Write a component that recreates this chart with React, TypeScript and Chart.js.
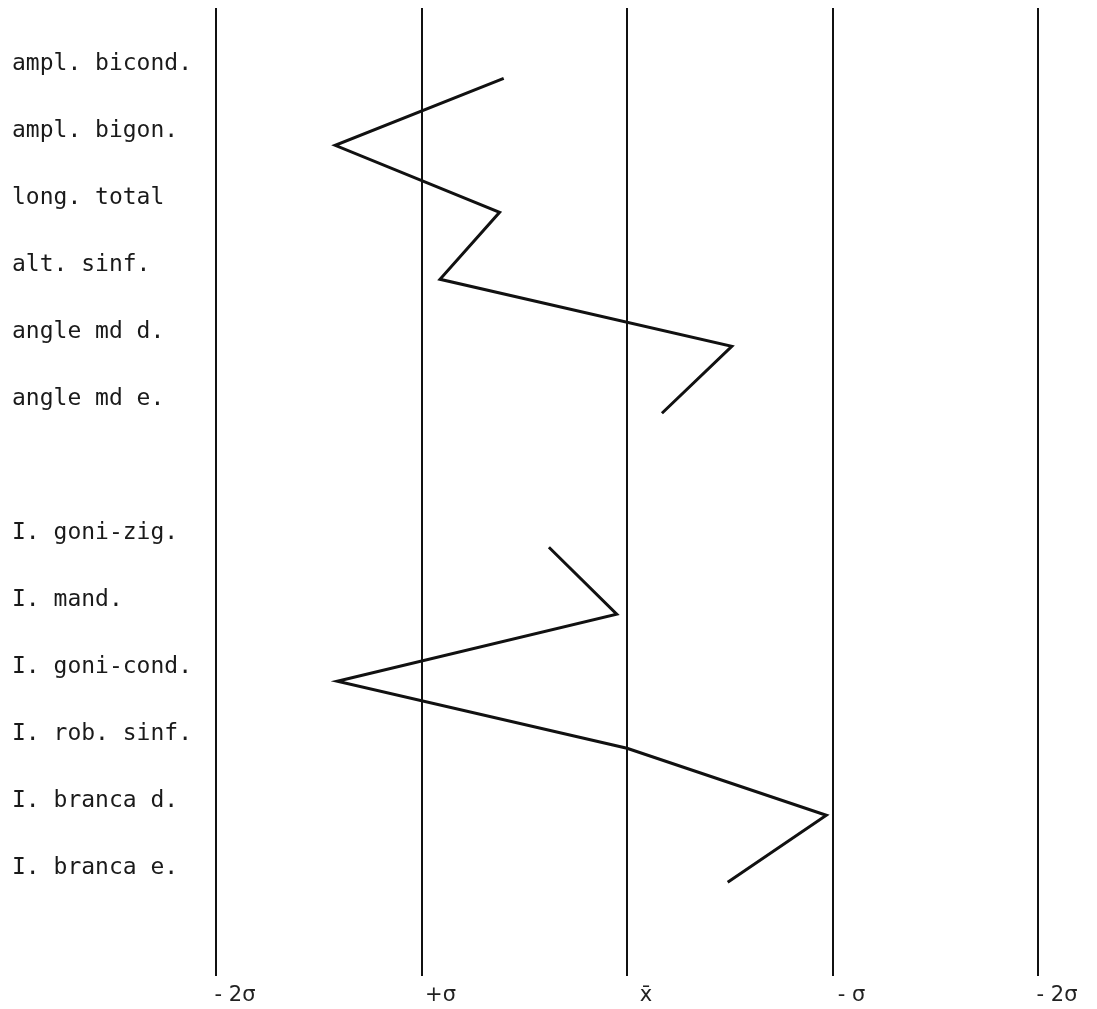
import React, { useEffect, useRef } from "react";
import { Chart, registerables } from "chart.js";

Chart.register(...registerables);

// Variables (rows, top to bottom); "" marks the blank row between the two groups
const categories: string[] = [
  "ampl. bicond.",
  "ampl. bigon.",
  "long. total",
  "alt. sinf.",
  "angle md d.",
  "angle md e.",
  "",
  "I. goni-zig.",
  "I. mand.",
  "I. goni-cond.",
  "I. rob. sinf.",
  "I. branca d.",
  "I. branca e.",
];

// Deviation from the mean, in standard-deviation units (positive = towards "+σ")
const deviations: (number | null)[] = [
  0.6, 1.42, 0.62, 0.91, -0.51, -0.17, null, 0.38, 0.05, 1.41, 0.0, -0.97, -0.49,
];

// Reference lines in sigma units and their printed labels
const sigmaTicks: number[] = [2, 1, 0, -1, -2];
const sigmaLabels: string[] = ["- 2\u03C3", "+\u03C3", "x\u0304", "- \u03C3", "- 2\u03C3"];

export default function App() {
  const ref = useRef<HTMLCanvasElement | null>(null);

  useEffect(() => {
    if (!ref.current) return;
    const points = deviations.map((v, i) => ({ x: v as any, y: i }));
    const chart = new Chart(ref.current, {
      type: "scatter",
      data: {
        datasets: [
          {
            data: points,
            showLine: true,
            spanGaps: false,
            borderColor: "#111111",
            borderWidth: 3,
            pointRadius: 0,
            tension: 0,
          },
        ],
      },
      options: {
        animation: false,
        responsive: false,
        layout: { padding: { left: 4, right: 51, top: 0, bottom: 0 } },
        plugins: { legend: { display: false }, tooltip: { enabled: false } },
        scales: {
          x: {
            type: "linear",
            reverse: true,
            min: -2,
            max: 2,
            afterBuildTicks: (scale: any) => {
              scale.ticks = sigmaTicks.map((v) => ({ value: v }));
            },
            afterFit: (scale: any) => {
              scale.height = 25;
              scale.paddingLeft = 0;
              scale.paddingRight = 0;
            },
            border: { display: false },
            grid: { color: "#111111", lineWidth: 2, drawTicks: false },
            ticks: {
              padding: 7,
              labelOffset: 19,
              color: "#222222",
              font: { family: "DejaVu Sans", size: 21 },
              callback: (value: any) => {
                const idx = sigmaTicks.indexOf(Number(value));
                return idx >= 0 ? sigmaLabels[idx] : "";
              },
            },
          },
          y: {
            type: "linear",
            reverse: true,
            min: -1.05,
            max: 13.4,
            afterBuildTicks: (scale: any) => {
              scale.ticks = categories.map((_, i) => ({ value: i }));
            },
            afterFit: (scale: any) => {
              scale.width = 204;
              scale.paddingTop = 0;
              scale.paddingBottom = 0;
            },
            border: { display: false },
            grid: { display: false, drawTicks: false },
            ticks: {
              crossAlign: "far",
              labelOffset: -14,
              color: "#1a1a1a",
              font: { family: "DejaVu Sans Mono", size: 23 },
              callback: (value: any) => categories[Number(value)] ?? "",
            },
          },
        },
      },
    });
    return () => chart.destroy();
  }, []);

  return (
    <div style={{ width: 1081, height: 993 }}>
      <canvas ref={ref} width={1081} height={993} style={{ display: "block" }} />
    </div>
  );
}
